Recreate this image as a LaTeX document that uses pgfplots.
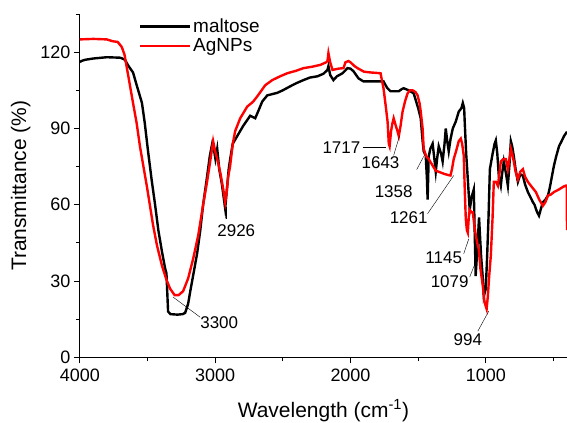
\documentclass[border=0pt]{standalone}
\usepackage{fontspec}
\setmainfont{Liberation Sans}
\usepackage{pgfplots}
\pgfplotsset{compat=1.18}

\begin{document}
\begin{tikzpicture}
\begin{axis}[
    name=ax,
    scale only axis,
    width=488pt, height=344pt,
    x dir=reverse,
    xmin=400, xmax=4000, ymin=0, ymax=135,
    axis x line*=bottom, axis y line*=left,
    axis line style={line width=0.9pt},
    xtick={1000,2000,3000,4000},
    minor xtick={500,1500,2500,3500},
    ytick={0,30,60,90,120},
    minor ytick={15,45,75,105,135},
    tick align=outside,
    major tick length=6pt, minor tick length=4pt,
    tick style={black, line width=0.9pt},
    /pgf/number format/assume math mode=true,
    /pgf/number format/1000 sep={},
    tick label style={font=\fontsize{18}{20}\selectfont},
    xticklabel style={yshift=-2pt},
    xlabel={Wavelength (cm\textsuperscript{-1})},
    ylabel={Transmittance (\%)},
    label style={font=\fontsize{21}{24}\selectfont},
    xlabel style={yshift=-11pt},
    ylabel style={yshift=3pt},
    legend style={at={(axis cs:3565,134)}, anchor=north west, draw=none, fill=none,
        font=\fontsize{19}{21}\selectfont, inner sep=0pt, row sep=1pt},
    legend cell align=left,
    legend image code/.code={\draw[#1] (0pt,0pt) -- (50pt,0pt);},
]

% maltose
\addplot[black, line width=2.4pt] coordinates {
(4000,116)(3990,116.5)(3960,117)(3900,117.5)(3800,118)(3700,117.8)(3667,117)
(3640,114.5)(3607,112)(3580,107)(3541,100)(3520,92)(3496,81)(3470,70)(3444,60)
(3420,50)(3393,41.5)(3370,35)(3360,33)(3356,28)(3348,18)(3330,17)(3280,16.8)
(3240,17)(3222,17.5)(3200,21)(3185,25.7)(3160,33)(3133,41)(3110,50)(3089,60)
(3060,71)(3040,79)(3022,84)(3010,82)(2998,78)(2985,82)(2970,74)(2950,68)
(2926,58.5)(2910,68)(2900,74)(2889,78)(2870,84)(2837,87)(2793,91)(2741,95)
(2704,94)(2680,97)(2652,100.6)(2615,103)(2541,104)(2500,105)(2444,106.6)
(2400,107.8)(2348,109)(2300,110)(2244,110.5)(2200,111.5)(2170,113)(2163,114.5)
(2150,111)(2126,109)(2100,110.5)(2059,111.7)(2022,113.7)(2000,113.5)(1978,112.5)
(1941,109.7)(1920,109)(1904,108.5)(1850,108.5)(1790,108.5)(1756,108.5)(1730,106)
(1704,104.6)(1644,104.6)(1620,105.5)(1607,105.8)(1570,105)(1533,103.8)(1500,98)
(1481,94)(1467,85)(1459,81)(1444,79.3)(1435,70)(1430,62)(1422,79)(1410,82)
(1393,84)(1380,78)(1370,73)(1360,78)(1348,83)(1330,80)(1319,77)(1305,84)
(1296,90)(1285,85)(1274,81)(1260,86)(1244,90)(1222,92.7)(1200,96.6)(1180,98)
(1170,100)(1160,98)(1156,92.7)(1145,80)(1133,70)(1119,58)(1105,63)(1089,66)
(1075,32)(1060,45)(1050,55)(1035,40)(1022,31)(1015,24)(1000,27)(990,40)
(980,55)(970,74)(950,80)(935,84)(926,85.3)(915,80)(904,71.4)(889,67.5)(880,72)
(867,77)(850,72)(837,67.5)(825,76)(815,85)(805,83)(793,79)(780,74)(763,69)
(745,72)(726,71.4)(710,68)(689,65)(670,63)(652,61)(640,60)(630,58.4)(620,57)
(607,55.7)(595,58)(578,61)(560,62)(541,63.6)(530,66)(519,69)(505,73)(496,75.5)
(480,79)(459,83)(440,85)(422,87)(400,88.7)
};
\addlegendentry{maltose}

% AgNPs
\addplot[red, line width=2.4pt] coordinates {
(4000,125)(3900,125.2)(3800,125)(3760,124.3)(3720,124)(3690,122)(3670,119)
(3640,110)(3607,100)(3580,92)(3556,83)(3530,75)(3504,67)(3480,59)(3459,52)
(3430,44)(3393,36)(3360,30.5)(3333,27)(3300,24.5)(3270,24.5)(3237,26)(3200,31)
(3163,38.7)(3125,48)(3089,60)(3060,69)(3037,77)(3015,85)(3000,81)(2980,77)
(2960,72)(2940,66)(2926,61)(2915,65)(2904,71)(2890,75)(2870,84)(2852,89)
(2815,94)(2763,98.6)(2720,100.5)(2689,102.6)(2630,107)(2578,109)(2520,110.5)
(2467,111.7)(2400,112.7)(2348,113.7)(2280,114.3)(2222,115)(2180,116)(2170,116.5)
(2163,119.6)(2150,116)(2133,113)(2090,113.5)(2052,113.7)(2037,116)(2015,116.5)
(2000,116)(1970,114.5)(1948,113.7)(1900,112.3)(1850,112)(1778,111.7)(1756,105.8)
(1740,99)(1726,92.7)(1717,84)(1711,83)(1700,89)(1690,92)(1681,94)(1665,91)
(1652,88.8)(1643,87)(1630,91)(1615,96.7)(1595,101)(1578,103.8)(1560,105)
(1541,105)(1520,104.3)(1504,103)(1490,100)(1481,96.7)(1467,90)(1459,82)(1440,79)
(1422,78)(1400,76)(1370,73.4)(1340,72.8)(1311,72.2)(1280,71.7)(1261,71.5)
(1250,74)(1237,78)(1220,81)(1200,85)(1185,86)(1175,84)(1163,79.4)(1155,65)
(1148,54.5)(1140,50)(1133,49)(1126,55)(1119,58)(1105,57)(1096,57)(1085,52)
(1074,48)(1060,44)(1052,42.6)(1040,35)(1022,28)(1010,22)(1000,20)(994,19)
(985,24)(975,32)(963,40)(950,55)(941,69)(925,69)(911,67.5)(900,72)(889,77)
(870,78)(852,78)(837,74)(825,78)(815,82)(805,80)(793,77)(780,73)(763,70)
(745,73)(726,74)(710,71)(689,69)(660,67)(630,65)(605,62)(578,59.6)(560,61)
(541,63.6)(520,64)(496,65)(460,66)(430,67)(410,67.5)(402,67.5)(400,50)
};
\addlegendentry{AgNPs}

% peak labels
\begin{scope}[every node/.style={font=\fontsize{17}{19}\selectfont, inner sep=0pt}]
\draw[thin] (axis cs:3311,23.7) -- (axis cs:3111,15.8);
\node at (axis cs:2970,13.8) {3300};
\draw[thin] (axis cs:2919,59.2) -- (axis cs:2919,54.5);
\node at (axis cs:2844,50) {2926};
\draw[thin] (axis cs:1911,82.5) -- (axis cs:1741,82.5);
\node at (axis cs:2067,82.5) {1717};
\draw[thin] (axis cs:1681,79.4) -- (axis cs:1637,87.2);
\node at (axis cs:1778,76.6) {1643};
\draw[thin] (axis cs:1511,73.8) -- (axis cs:1459,79);
\node at (axis cs:1681,65.1) {1358};
\draw[thin] (axis cs:1430,56.5) -- (axis cs:1237,71.5);
\node at (axis cs:1570,54.9) {1261};
\draw[thin] (axis cs:1163,40.7) -- (axis cs:1126,46.6);
\node at (axis cs:1311,39) {1145};
\draw[thin] (axis cs:1119,31.6) -- (axis cs:1081,36.7);
\node at (axis cs:1267,29.6) {1079};
\draw[thin] (axis cs:1059,10.3) -- (axis cs:978,18.2);
\node at (axis cs:1133,7.1) {994};
\end{scope}
\end{axis}
\pgfresetboundingbox
\path ([xshift=-80pt,yshift=-65pt]ax.south west) rectangle ([yshift=14pt]ax.north east);
\end{tikzpicture}
\end{document}
